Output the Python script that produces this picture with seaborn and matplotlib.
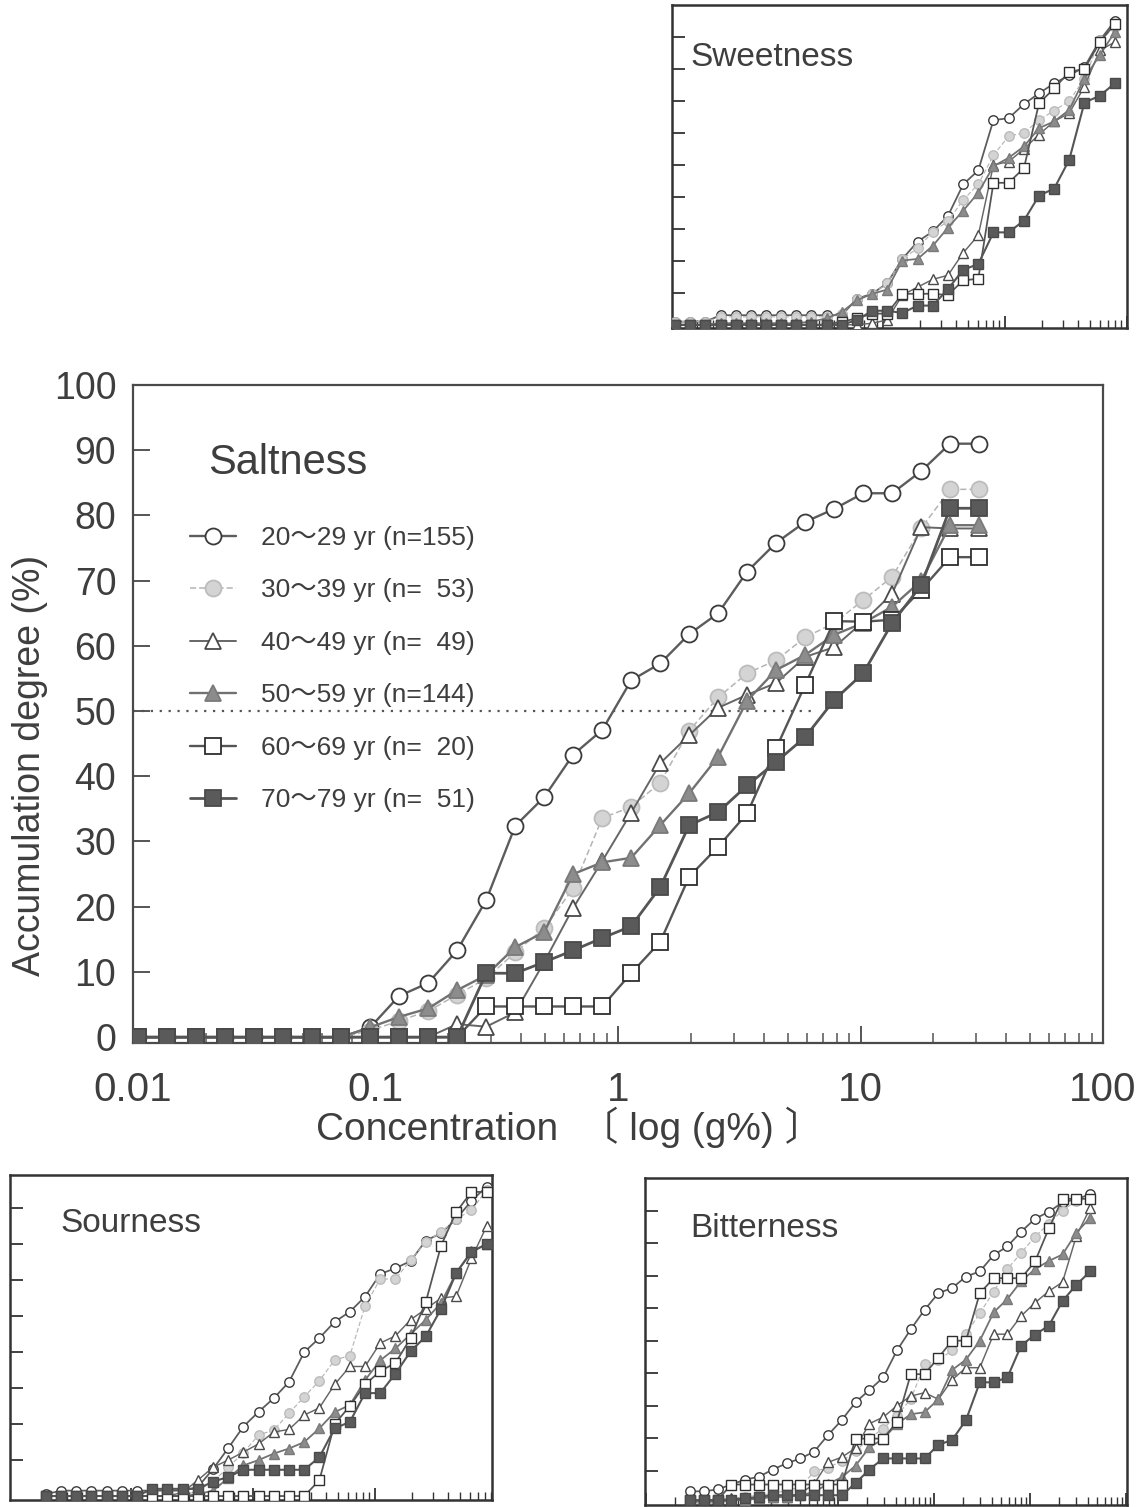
import numpy as np
import pandas as pd
import matplotlib
matplotlib.use("Agg")
import matplotlib.pyplot as plt
import seaborn as sns
from matplotlib.ticker import LogLocator, NullFormatter, FixedLocator

sns.set_theme(style="ticks")
plt.rcParams["font.family"] = ["Liberation Sans", "Noto Sans CJK JP", "DejaVu Sans"]

# ---------------- data ----------------
group_labels = ["20～29 yr (n=155)", "30～39 yr (n=  53)", "40～49 yr (n=  49)",
                "50～59 yr (n=144)", "60～69 yr (n=  20)", "70～79 yr (n=  51)"]

# Saltness (main panel)
salt_conc = [0.0105, 0.0138, 0.0182, 0.0240, 0.0316, 0.0416, 0.0548, 0.0722, 0.0951, 0.125,
             0.165, 0.217, 0.286, 0.377, 0.496, 0.653, 0.861, 1.133, 1.493, 1.966,
             2.589, 3.41, 4.49, 5.91, 7.79, 10.26, 13.51, 17.8, 23.4, 30.9]
salt_20 = [0, 0, 0, 0, 0, 0, 0, 0, 1.5, 6.3, 8.3, 13.3, 21, 32.4, 36.8, 43.3, 47.1, 54.7, 57.3, 61.8,
           65, 71.4, 75.8, 79, 81, 83.4, 83.4, 86.8, 91, 91]
salt_30 = [0, 0, 0, 0, 0, 0, 0, 0, 1, 2.5, 4, 6.5, 9, 13, 16.7, 22.8, 33.6, 35.3, 39, 47,
           52.1, 55.8, 57.8, 61.3, 63.5, 67, 70.6, 78, 84, 84]
salt_40 = [0, 0, 0, 0, 0, 0, 0, 0, 0, 0, 0, 2, 1.6, 3.8, 11.5, 19.8, 27, 34.4, 42, 46.3,
           50.5, 52.5, 54.3, 58.3, 59.8, 63.7, 68, 78.2, 78, 78]
salt_50 = [0, 0, 0, 0, 0, 0, 0, 0, 1.5, 3.1, 4.4, 7.2, 9.5, 13.8, 16.1, 25, 26.8, 27.5, 32.5, 37.4,
           43, 51.6, 56.3, 58.6, 61.7, 63.5, 66, 70, 78.5, 78.5]
salt_60 = [0, 0, 0, 0, 0, 0, 0, 0, 0, 0, 0, 0, 4.7, 4.7, 4.7, 4.7, 4.7, 9.8, 14.6, 24.6,
           29.2, 34.3, 44.3, 54, 63.8, 63.7, 64, 68.6, 73.6, 73.6]
salt_70 = [0, 0, 0, 0, 0, 0, 0, 0, 0, 0, 0, 0, 9.8, 9.8, 11.5, 13.3, 15.2, 17, 23, 32.5,
           34.5, 38.6, 42.2, 46, 51.7, 55.8, 63.5, 69.3, 81.1, 81.1]

# Sweetness (top inset)
sweet_conc = [0.0197, 0.0263, 0.035, 0.0466, 0.062, 0.0826, 0.110, 0.146, 0.195, 0.259,
              0.345, 0.459, 0.612, 0.815, 1.08, 1.44, 1.92, 2.56, 3.41, 4.54,
              6.04, 8.04, 10.7, 14.3, 19.0, 25.3, 33.6, 44.8, 59.7, 79.4]
sweet_20 = [1, 1, 1, 3, 3, 3, 3, 3, 3, 3, 3, 3, 8.2, 9.7, 13, 20.6, 26, 29.2, 34.1, 43.9,
            48.3, 64, 64.6, 69, 72.4, 75.5, 78, 80.6, 88.9, 95]
sweet_30 = [1, 1, 1, 2.5, 2.5, 2.5, 2.5, 2.5, 2.5, 2.5, 2.5, 3.5, 8, 9.5, 13, 20.5, 24, 29, 32.5, 39,
            44, 53, 59, 60, 64, 67, 70, 77, 89, 93]
sweet_40 = [0, 0, 0, 0, 0, 0, 0, 0, 0, 0, 0, 0, 0, 0.5, 1.5, 9.3, 11.8, 14.2, 15.5, 22.5,
            28, 50, 51, 55, 59.5, 63.6, 66.2, 74.5, 85.8, 88.4]
sweet_50 = [0, 0, 0, 0.5, 0.5, 0.5, 0.5, 0.5, 0.5, 1, 2, 4, 7.7, 9.7, 11, 20.1, 20.6, 24.7, 30.4, 35.7,
            41.3, 49.6, 52.2, 55.8, 61.5, 63.6, 67.2, 77, 84.3, 91.5]
sweet_60 = [0, 0, 0, 0, 0, 0, 0, 0, 0, 0, 0, 1, 2, 3.5, 3.5, 9.7, 9.7, 9.7, 9.3, 13.9,
            14.4, 44.4, 44.4, 49, 69.3, 73.9, 79.1, 80, 88.4, 94]
sweet_70 = [0, 0, 0, 0, 0, 0, 0, 0, 0, 0, 0, 0, 1.5, 4.4, 4.4, 3.7, 6, 6, 11.2, 17.2,
            19, 28.9, 28.9, 32.6, 40.4, 42.6, 51.6, 69.5, 71.6, 75.5]

# Sourness (bottom-left inset)
sour_conc = [0.00201, 0.00268, 0.00357, 0.00475, 0.00633, 0.00843, 0.01124, 0.01497, 0.01994, 0.02656,
             0.0354, 0.0472, 0.0628, 0.0837, 0.1115, 0.1486, 0.198, 0.264, 0.351, 0.468,
             0.624, 0.831, 1.107, 1.475, 1.965, 2.62, 3.49, 4.64, 6.19, 8.24]
sour_20 = [0.5, 1.5, 1.5, 1.5, 1.5, 1.5, 1.5, 1.5, 1.5, 1.5, 2.5, 7.5, 13.3, 19.3, 23.4, 27.2, 31.7, 40, 43.9, 48.4,
           51.2, 55.4, 61.7, 63.3, 65.3, 71, 73, 77, 82, 86]
sour_30 = [0, 0, 0, 0, 0, 0, 0, 0, 0, 0, 1.5, 4, 8, 12, 17, 18.3, 23, 27.6, 32, 37.8,
           39, 52.8, 60.3, 60.3, 65.6, 70.6, 73.3, 77, 79.4, 85]
sour_40 = [0, 0, 0, 0, 0, 0, 0, 0, 0, 1, 4.4, 8, 10, 12.2, 14.5, 17.8, 18.5, 22.5, 24.5, 31,
           36, 36, 42.5, 44.5, 49, 52, 55, 55.5, 66, 75]
sour_50 = [0, 0, 0, 0, 0, 0, 0, 0, 0, 0, 0.5, 1.5, 5, 8.5, 10, 11.8, 13.2, 15, 18.8, 23.3,
           25.3, 32.2, 37.7, 41, 45, 49, 53.7, 62, 68, 70]
sour_60 = [0, 0, 0, 0, 0, 0, 0, 0, 0, 0, 0, 0, 0, 0, 0, 0, 0, 0, 4.4, 20,
           25, 31, 34.7, 37, 43.9, 54, 69.6, 78.9, 84.5, 84.5]
sour_70 = [0, 0, 0, 0, 0, 0, 0, 2, 2, 2, 2, 4, 5.3, 7.3, 7.3, 7.3, 7.3, 7.3, 10.8, 18.8,
           20.6, 28.6, 28.6, 34, 40.2, 44.4, 52, 62, 67.8, 70]

# Bitterness (bottom-right inset)
bitter_conc = [0.00287, 0.0040, 0.00557, 0.00775, 0.01079, 0.01503, 0.02093, 0.0291, 0.0406, 0.0565,
               0.0787, 0.1095, 0.1525, 0.212, 0.296, 0.411, 0.573, 0.798, 1.111, 1.546,
               2.153, 3.00, 4.18, 5.81, 8.09, 11.3, 15.7, 21.8, 30.4, 42.4]
bitter_20 = [3.7, 3.7, 4.3, 5.8, 7.3, 8.2, 10.4, 12.3, 13.8, 15.9, 21, 25.6, 31.1, 34.8, 38.7, 47, 53.5, 59.5, 64.6, 66.2,
             69.7, 71.3, 76.3, 79, 83.5, 87.5, 89.6, 92.5, 93.5, 95]
bitter_30 = [0, 0, 0, 1, 2, 2.5, 3, 4, 5, 9.8, 11, 13, 16, 20, 23, 27, 32, 42.7, 44, 47,
             52, 58.5, 65, 72, 77, 82, 86, 90, 93, 93.5]
bitter_40 = [1, 1, 1, 1.5, 1.5, 1.5, 2, 2, 3, 6, 12.6, 14.2, 17, 24.5, 26.5, 30, 33, 34, 32, 38,
             41.7, 41.7, 52, 52, 57.6, 61.7, 65.2, 68, 82.2, 90.8]
bitter_50 = [0.5, 0.5, 0.5, 1, 1, 1.5, 2, 2, 2.5, 3.5, 6, 8, 11.6, 17.2, 19.8, 24.4, 27.4, 28, 32, 41,
             44.2, 50, 58.7, 62.8, 68.3, 72, 74.5, 76.5, 83.2, 87.8]
bitter_60 = [1, 1, 1, 5.8, 5.8, 5.8, 5.8, 5.8, 5.8, 5.8, 5.8, 5.8, 19.9, 19.9, 19.9, 25, 39.7, 39.7, 44.8, 50,
             50, 64.6, 69.2, 69.2, 69.2, 74.4, 84.5, 93.6, 93.6, 93.6]
bitter_70 = [1, 1, 1, 1, 1.5, 2, 2.5, 2.5, 2.5, 2.5, 2.5, 2.5, 6.2, 10.4, 13.8, 13.8, 13.8, 13.8, 18, 19.5,
             25.6, 37.2, 37.2, 38.7, 48.5, 51.9, 54.6, 62.2, 67.2, 71.3]

half_level = 50
half_line_end = 6.3

# ---------------- styles ----------------
styles = [
    dict(color="#5c5c5c", linewidth=1.7, linestyle="-", marker="o", markerfacecolor="white", markeredgecolor="#3a3a3a"),
    dict(color="#b4b4b4", linewidth=1.1, linestyle=(0, (4, 2)), marker="o", markerfacecolor="#d4d4d4", markeredgecolor="#bcbcbc"),
    dict(color="#666666", linewidth=1.4, linestyle="-", marker="^", markerfacecolor="white", markeredgecolor="#4a4a4a"),
    dict(color="#717171", linewidth=1.7, linestyle="-", marker="^", markerfacecolor="#8c8c8c", markeredgecolor="#7a7a7a"),
    dict(color="#555555", linewidth=1.7, linestyle="-", marker="s", markerfacecolor="white", markeredgecolor="#2e2e2e"),
    dict(color="#555555", linewidth=2.0, linestyle="-", marker="s", markerfacecolor="#5a5a5a", markeredgecolor="#4a4a4a"),
]

W, H = 1146, 1507
fig = plt.figure(figsize=(W / 100, H / 100), dpi=100)
fig.patch.set_facecolor("white")


def rect(l, t, r, b):
    return [l / W, 1 - b / H, (r - l) / W, (b - t) / H]


TXT = "#3e3e3e"
NARROW = ["Liberation Sans Narrow", "Liberation Sans", "Noto Sans CJK JP"]


def draw_panel(ax, conc, series, msize, mew, lw_scale):
    for i, (vals, st) in enumerate(zip(series, styles)):
        df = pd.DataFrame({"conc": conc, "val": vals})
        sns.lineplot(data=df, x="conc", y="val", ax=ax, estimator=None, sort=False, legend=False,
                     label=group_labels[i],
                     color=st["color"], linewidth=st["linewidth"] * lw_scale, linestyle=st["linestyle"],
                     marker=st["marker"], markersize=msize * (1.05 if st["marker"] == "^" else 1.0),
                     markerfacecolor=st["markerfacecolor"], markeredgecolor=st["markeredgecolor"],
                     markeredgewidth=mew, zorder=3 + i)
    ax.set_xscale("log")
    ax.set_xlabel("")
    ax.set_ylabel("")


# ---------------- main panel ----------------
ax = fig.add_axes(rect(133, 385, 1103, 1043))
draw_panel(ax, salt_conc, [salt_20, salt_30, salt_40, salt_50, salt_60, salt_70], 11.5, 1.3, 1.0)
ax.hlines(half_level, 0.01, half_line_end, colors="#555555", linestyles=(0, (1, 3)), linewidth=1.6, zorder=2)
ax.set_xlim(0.01, 100)
ax.set_ylim(-0.9, 100)
ax.set_xticks([0.01, 0.1, 1, 10, 100])
ax.set_xticklabels(["0.01", "0.1", "1", "10", "100"])
ax.xaxis.set_minor_locator(LogLocator(base=10, subs=np.arange(2, 10), numticks=100))
ax.xaxis.set_minor_formatter(NullFormatter())
ax.set_yticks(np.arange(0, 101, 10))
ax.tick_params(axis="both", which="major", direction="in", length=12, width=1.4, color="#555555",
               labelcolor=TXT)
ax.tick_params(axis="x", which="major", pad=20, labelsize=29)
ax.tick_params(axis="y", which="major", pad=12, labelsize=27)
ax.tick_params(axis="x", which="minor", direction="in", length=7, width=1.1, color="#555555")
for lab in ax.get_xticklabels() + ax.get_yticklabels():
    lab.set_family(NARROW)
for s in ax.spines.values():
    s.set_linewidth(1.6)
    s.set_color("#4a4a4a")
ax.set_xlabel("Concentration  〔 log (g%) 〕", fontsize=28, color=TXT, family=NARROW)
ax.xaxis.set_label_coords((570 - 133) / 970, -(1127 - 1043) / 658)
ax.xaxis.label.set_va("center")
ax.set_ylabel("Accumulation degree (%)", fontsize=27, color=TXT, family=NARROW)
ax.yaxis.set_label_coords(-(133 - 30) / 970, (1043 - 765) / 658)
ax.yaxis.label.set_va("center")
ax.text(208 / W, 1 - 474 / H, "Saltness", transform=fig.transFigure, fontsize=30, color=TXT,
        va="baseline", ha="left")
handles, labels = ax.get_legend_handles_labels()
leg = ax.legend(handles, labels, loc="upper left", bbox_to_anchor=(190 / W, 1 - 526 / H),
                bbox_transform=fig.transFigure, frameon=False, borderpad=0, borderaxespad=0,
                handlelength=1.75, handletextpad=0.95, labelspacing=1.08,
                prop=dict(family=["Liberation Sans", "Noto Sans CJK JP"], size=19))
for t in leg.get_texts():
    t.set_color(TXT)


# ---------------- insets ----------------
def style_inset(ax, xlim, ylim, yticks, title, title_xy):
    ax.set_xlim(*xlim)
    ax.set_ylim(*ylim)
    ax.xaxis.set_major_locator(LogLocator(base=10, numticks=20))
    ax.xaxis.set_minor_locator(LogLocator(base=10, subs=np.arange(2, 10), numticks=200))
    ax.xaxis.set_major_formatter(NullFormatter())
    ax.xaxis.set_minor_formatter(NullFormatter())
    ax.yaxis.set_major_locator(FixedLocator(yticks))
    ax.yaxis.set_major_formatter(NullFormatter())
    ax.tick_params(axis="both", which="major", direction="in", length=9, width=1.3, color="#333333")
    ax.tick_params(axis="x", which="minor", direction="in", length=6, width=1.0, color="#333333")
    for s in ax.spines.values():
        s.set_linewidth(1.8)
        s.set_color("#333333")
    fig.text(title_xy[0] / W, 1 - title_xy[1] / H, title, fontsize=24, color=TXT, va="baseline", ha="left")


ax_sw = fig.add_axes(rect(672, 5, 1127, 328))
draw_panel(ax_sw, sweet_conc, [sweet_20, sweet_30, sweet_40, sweet_50, sweet_60, sweet_70], 6.8, 1.0, 0.75)
style_inset(ax_sw, (10 ** -1.73, 100), (-1, 100), list(range(10, 100, 10)), "Sweetness", (690, 66))

ax_so = fig.add_axes(rect(10, 1175, 492, 1500))
draw_panel(ax_so, sour_conc, [sour_20, sour_30, sour_40, sour_50, sour_60, sour_70], 6.8, 1.0, 0.75)
style_inset(ax_so, (10 ** -2.99, 10 ** 0.96), (-1.1, 89.2), list(range(10, 90, 10)), "Sourness", (60, 1232))

ax_bi = fig.add_axes(rect(645, 1178, 1127, 1505))
draw_panel(ax_bi, bitter_conc, [bitter_20, bitter_30, bitter_40, bitter_50, bitter_60, bitter_70], 6.8, 1.0, 0.75)
style_inset(ax_bi, (10 ** -3.01, 10 ** 2.01), (-0.5, 100), list(range(10, 100, 10)), "Bitterness", (690, 1237))

fig.savefig("out.png", dpi=100, facecolor="white")
